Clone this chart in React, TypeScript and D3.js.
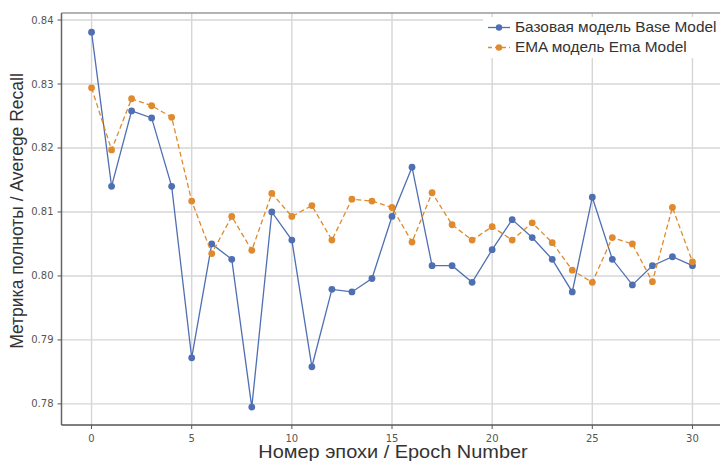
import React from "react";
import * as d3 from "d3";

const epochs: number[] = d3.range(0, 31);
const baseModel: number[] = [
  0.8381, 0.814, 0.8258, 0.8247, 0.814, 0.7872, 0.805, 0.8026, 0.7795, 0.81,
  0.8056, 0.7858, 0.7979, 0.7975, 0.7996, 0.8093, 0.817, 0.8016, 0.8016, 0.799,
  0.8041, 0.8088, 0.806, 0.8026, 0.7975, 0.8123, 0.8026, 0.7986, 0.8016, 0.803,
  0.8016,
];
const emaModel: number[] = [
  0.8294, 0.8197, 0.8277, 0.8266, 0.8248, 0.8117, 0.8035, 0.8093, 0.804, 0.8129,
  0.8093, 0.811, 0.8056, 0.812, 0.8117, 0.8107, 0.8053, 0.813, 0.808, 0.8056,
  0.8077, 0.8056, 0.8083, 0.8052, 0.8009, 0.799, 0.806, 0.805, 0.7991, 0.8107,
  0.8022,
];
const xTicks: number[] = [0, 5, 10, 15, 20, 25, 30];
const yTicks: number[] = [0.78, 0.79, 0.8, 0.81, 0.82, 0.83, 0.84];
const seriesNames: string[] = ["Базовая модель Base Model", "EMA модель Ema Model"];
const xLabel = "Номер эпохи / Epoch Number";
const yLabel = "Метрика полноты / Averege Recall";

const BLUE = "#4f6fb3";
const ORANGE = "#df8a2c";

export default function App() {
  const W = 720;
  const H = 461;
  const left = 61.5;
  const right = 722.5;
  const top = 13;
  const bottom = 425;

  const x = d3.scaleLinear().domain([-1.5, 31.5]).range([left, right]);
  const y = d3.scaleLinear().domain([0.7767, 0.8411]).range([bottom, top]);

  const line = d3
    .line<number>()
    .x((_, i) => x(epochs[i]))
    .y((v) => y(v));

  const series = [
    { name: seriesNames[0], values: baseModel, color: BLUE, dash: undefined as string | undefined },
    { name: seriesNames[1], values: emaModel, color: ORANGE, dash: "5,3" },
  ];

  const tickFont = "'DejaVu Sans', sans-serif";
  const labelFont = "'Liberation Sans', Arial, sans-serif";

  return (
    <svg
      width={W}
      height={H}
      style={{ position: "absolute", left: 0, top: 0, background: "#fff", overflow: "hidden" }}
    >
      <rect x={0} y={0} width={W} height={H} fill="#fff" />
      {/* grid */}
      {xTicks.map((t) => (
        <line key={"gx" + t} x1={x(t)} x2={x(t)} y1={top} y2={bottom} stroke="#d6d6d6" strokeWidth={1.4} />
      ))}
      {yTicks.map((t) => (
        <line key={"gy" + t} x1={left} x2={right} y1={y(t)} y2={y(t)} stroke="#d6d6d6" strokeWidth={1.4} />
      ))}
      {/* frame */}
      <line x1={left} x2={right} y1={top} y2={top} stroke="#9a9a9a" strokeWidth={1.3} />
      <line x1={left} x2={left} y1={top} y2={bottom} stroke="#666" strokeWidth={1.5} />
      <line x1={left} x2={right} y1={bottom} y2={bottom} stroke="#555" strokeWidth={1.6} />
      {/* ticks */}
      {yTicks.map((t) => (
        <g key={"ty" + t}>
          <line x1={left - 4} x2={left} y1={y(t)} y2={y(t)} stroke="#555" strokeWidth={1} />
          <text
            x={left - 8}
            y={y(t)}
            dy="0.35em"
            textAnchor="end"
            fontFamily={tickFont}
            fontSize={10}
            fill="#555"
          >
            {d3.format(".2f")(t)}
          </text>
        </g>
      ))}
      {xTicks.map((t) => (
        <g key={"tx" + t}>
          <line x1={x(t)} x2={x(t)} y1={bottom} y2={bottom + 4} stroke="#555" strokeWidth={1} />
          <text
            x={x(t)}
            y={bottom + 16.5}
            textAnchor="middle"
            fontFamily={tickFont}
            fontSize={10}
            fill="#555"
          >
            {t}
          </text>
        </g>
      ))}
      {/* axis labels */}
      <text
        transform="translate(393, 458) scale(1.14, 1)"
        textAnchor="middle"
        fontFamily={labelFont}
        fontSize={17.5}
        fill="#333"
      >
        {xLabel}
      </text>
      <text
        transform={`translate(23, 211) rotate(-90)`}
        textAnchor="middle"
        fontFamily={labelFont}
        fontSize={17.5}
        fill="#333"
      >
        {yLabel}
      </text>
      {/* series */}
      {series.map((s) => (
        <g key={s.name}>
          <path d={line(s.values) || ""} fill="none" stroke={s.color} strokeWidth={1.3} strokeDasharray={s.dash} />
          {s.values.map((v, i) => (
            <circle key={i} cx={x(epochs[i])} cy={y(v)} r={3.4} fill={s.color} />
          ))}
        </g>
      ))}
      {/* legend */}
      <rect x={483} y={17} width={245} height={41} fill="#fff" />
      {series.map((s, i) => {
        const ly = 27.5 + i * 20;
        return (
          <g key={"lg" + i}>
            <line x1={488} x2={510} y1={ly} y2={ly} stroke={s.color} strokeWidth={1.3} strokeDasharray={s.dash ? "4,3" : undefined} />
            <circle cx={499} cy={ly} r={3.2} fill={s.color} />
            <text
              transform={`translate(515, ${ly}) scale(1.1, 1)`}
              dy="0.35em"
              fontFamily={labelFont}
              fontSize={14}
              fill="#333"
            >
              {s.name}
            </text>
          </g>
        );
      })}
    </svg>
  );
}
